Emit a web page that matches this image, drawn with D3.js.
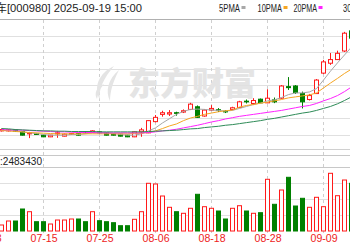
<!DOCTYPE html>
<html><head><meta charset="utf-8">
<script src="https://cdn.jsdelivr.net/npm/d3@7"></script>
<style>body{margin:0;background:#fff}svg{display:block;background:#fff}</style>
</head><body><svg id="c" width="350" height="250"></svg>
<script>
// ---- data ----
const allDates = ["07-03","07-04","07-07","07-08","07-09","07-10","07-11","07-14","07-15","07-16","07-17","07-18","07-21","07-22","07-23","07-24","07-25","07-28","07-29","07-30","07-31",
"08-01","08-04","08-05","08-06","08-07","08-08","08-11","08-12","08-13","08-14","08-15","08-18","08-19","08-20","08-21","08-22","08-25","08-26","08-27","08-28","08-29",
"09-01","09-02","09-03","09-04","09-05","09-08","09-09","09-10","09-11","09-12","09-15","09-16","09-17","09-18","09-19"];
const dates = allDates.slice(2, 53);
const open  = [2.61,2.61,2.64,2.59,2.52,2.53,2.48,2.43,2.52,2.45,2.50,2.53,2.58,2.56,2.58,2.55,2.52,2.51,2.48,
2.43,2.58,2.55,2.89,3.11,3.12,3.16,3.18,3.26,3.34,3.06,3.24,3.25,3.20,3.26,3.32,3.51,3.44,3.57,3.46,3.55,
3.60,3.95,3.97,3.74,3.56,3.74,4.36,4.66,4.77,5.03,5.64];
const close = [2.65,2.64,2.60,2.48,2.55,2.50,2.43,2.48,2.55,2.51,2.53,2.48,2.55,2.61,2.55,2.48,2.48,2.45,2.43,
2.58,2.64,2.92,3.02,3.16,3.16,3.14,3.22,3.42,3.02,3.24,3.29,3.23,3.19,3.31,3.49,3.49,3.53,3.46,3.60,3.49,
3.97,3.92,3.77,3.49,3.68,4.15,4.70,4.77,4.96,5.57,5.42];
const high  = [2.68,2.66,2.66,2.60,2.58,2.55,2.49,2.49,2.61,2.53,2.55,2.55,2.59,2.63,2.59,2.56,2.53,2.52,2.49,
2.59,2.70,2.93,3.09,3.22,3.24,3.19,3.26,3.46,3.38,3.26,3.39,3.30,3.24,3.34,3.52,3.56,3.60,3.59,3.87,3.62,
4.00,4.24,4.00,3.80,3.73,4.18,4.76,4.97,5.04,5.61,5.70];
const low   = [2.59,2.59,2.58,2.47,2.39,2.49,2.42,2.42,2.40,2.44,2.49,2.47,2.54,2.55,2.53,2.47,2.47,2.44,2.42,
2.42,2.43,2.54,2.87,3.04,3.06,3.07,3.15,3.24,3.00,3.04,3.22,3.18,3.15,3.24,3.30,3.44,3.39,3.45,3.45,3.45,
3.58,3.85,3.73,3.29,3.53,3.73,4.33,4.61,4.76,5.00,5.40];
const volume = [375000,625000,625000,1375000,1206000,581000,581000,437000,687000,687000,750000,750000,581000,1206000,644000,581000,519000,331000,331000,
731000,1206000,2981000,2937000,2187000,1481000,1206000,1106000,1419000,2294000,1519000,1419000,1250000,750000,1419000,1581000,1250000,1106000,1144000,3231000,1669000,
2562000,3356000,1562000,2044000,1481000,2106000,1519000,3606000,2206000,3187000,2981000];
const ma5  = [2.62,2.62,2.61,2.58,2.55,2.53,2.50,2.48,2.48,2.48,2.50,2.50,2.52,2.55,2.56,2.55,2.53,2.50,2.48,
2.48,2.52,2.61,2.70,2.85,2.98,3.11,3.20,3.26,3.27,3.26,3.24,3.23,3.21,3.23,3.29,3.35,3.41,3.45,3.52,3.55,
3.62,3.71,3.76,3.76,3.79,3.89,4.15,4.42,4.67,4.91,5.15];
const ma10 = [2.62,2.61,2.59,2.58,2.56,2.55,2.54,2.53,2.52,2.52,2.52,2.52,2.52,2.52,2.52,2.52,2.52,2.52,2.52,
2.53,2.54,2.56,2.61,2.68,2.76,2.82,2.92,3.00,3.05,3.11,3.15,3.19,3.22,3.24,3.33,3.38,3.41,3.45,3.48,3.52,
3.56,3.61,3.64,3.67,3.70,3.76,3.91,4.06,4.20,4.35,4.48];
const ma20 = [2.65,2.64,2.64,2.63,2.62,2.61,2.60,2.59,2.58,2.58,2.57,2.56,2.56,2.56,2.55,2.55,2.55,2.55,2.55,
2.55,2.55,2.56,2.58,2.61,2.63,2.66,2.70,2.74,2.78,2.83,2.88,2.92,2.97,3.01,3.05,3.08,3.11,3.14,3.17,3.20,
3.23,3.27,3.31,3.35,3.38,3.44,3.52,3.59,3.68,3.80,3.94];
const ma30 = [2.68,2.67,2.65,2.64,2.63,2.62,2.61,2.61,2.60,2.60,2.59,2.59,2.59,2.59,2.58,2.58,2.58,2.58,2.58,
2.58,2.58,2.59,2.60,2.61,2.62,2.63,2.65,2.67,2.68,2.71,2.73,2.75,2.78,2.80,2.83,2.86,2.89,2.92,2.96,2.99,
3.03,3.07,3.11,3.15,3.18,3.23,3.29,3.35,3.43,3.53,3.64];
const axisLabels = ["07-03","07-15","07-25","08-06","08-18","08-28","09-09"];
const priceTicks = [2.5,3.0,3.5,4.0,4.5,5.0,5.5];
const volTicks = [1e6,2e6,3e6];
const maNames = ["5PMA","10PMA","20PMA","30PMA"];
const maColors = ["#a8a8a8","#f5a623","#ff22ff","#2e8b57"];
const titleName = "众泰汽车";
const titleText = "[000980] 2025-09-19 15:00";
const volLabel = "成交量";
const volText = ":2483430";

// ---- scales ----
const W = 350;
const x = d3.scalePoint().domain(allDates).range([-12.5, -12.5 + 7*(allDates.length-1)]);
const y = d3.scaleLinear().domain([2.0, 6.0]).range([151, 19]);
const yv = d3.scaleLinear().domain([0, 4e6]).range([231, 167]);
const svg = d3.select("#c");
const RED = "#ff1a1a", GREEN = "#008000";

const rows = dates.map((d,i)=>({d, o:open[i], c:close[i], h:high[i], l:low[i], v:volume[i]}));

// ---- grid ----
svg.append("g").selectAll("line").data(priceTicks).join("line")
  .attr("x1",0).attr("x2",W).attr("y1",d=>Math.round(y(d))+0.5).attr("y2",d=>Math.round(y(d))+0.5)
  .attr("stroke","#e0e0e0");
svg.append("line").attr("x1",0).attr("x2",W).attr("y1",19.5).attr("y2",19.5).attr("stroke","#b0b0b0");
svg.append("line").attr("x1",0).attr("x2",W).attr("y1",149.5).attr("y2",149.5).attr("stroke","#d0d0d0");
svg.append("line").attr("x1",0).attr("x2",W).attr("y1",155.5).attr("y2",155.5).attr("stroke","#c8c8c8");
svg.append("line").attr("x1",0).attr("x2",W).attr("y1",167.5).attr("y2",167.5).attr("stroke","#c8c8c8");
svg.append("g").selectAll("line").data(volTicks).join("line")
  .attr("x1",0).attr("x2",W).attr("y1",d=>Math.round(yv(d))+0.5).attr("y2",d=>Math.round(yv(d))+0.5)
  .attr("stroke","#e0e0e0");
svg.append("g").selectAll("line").data(axisLabels).join("line")
  .attr("x1",d=>x(d)).attr("x2",d=>x(d)).attr("y1",20).attr("y2",233)
  .attr("stroke","#cfcfcf").attr("stroke-dasharray","3,3");

// ---- watermark ----
const wm = svg.append("g").attr("fill","#e4e4e4");
wm.append("path").attr("d","M114,66 C99,73 93,87 100,100 C98,89 104,78 114,66 Z M119,70 C108,79 105,91 110,101 C110,91 113,82 119,70 Z M104,84 C96,87 94,94 97,99 C98,93 100,89 104,84 Z");
wm.append("text").attr("x",128).attr("y",95).attr("font-family","Noto Sans CJK SC").attr("font-weight",900)
  .attr("font-size",32).text("东方财富");

// ---- candles ----
const cg = svg.append("g");
cg.selectAll("line").data(rows).join("line")
  .attr("x1",d=>x(d.d)).attr("x2",d=>x(d.d)).attr("y1",d=>y(d.h)).attr("y2",d=>y(d.l))
  .attr("stroke",d=>d.c>=d.o?RED:GREEN);
cg.selectAll("rect").data(rows).join("rect")
  .attr("x",d=>x(d.d)-2).attr("width",4)
  .attr("y",d=>y(Math.max(d.o,d.c)))
  .attr("height",d=>Math.max(0.5, Math.abs(y(d.o)-y(d.c))))
  .attr("fill",d=>d.c>=d.o?"#fff":GREEN).attr("stroke",d=>d.c>=d.o?RED:GREEN);

// ---- MA lines ----
[ma5,ma10,ma20,ma30].forEach((arr,k)=>{
  const line = d3.line().x((v,i)=>x(dates[i])).y(v=>y(v));
  svg.append("path").attr("d",line(arr)).attr("fill","none").attr("stroke",maColors[k]).attr("stroke-width",1);
});

// ---- volume ----
svg.append("g").selectAll("rect").data(rows).join("rect")
  .attr("x",d=>x(d.d)-2).attr("width",4)
  .attr("y",d=>yv(d.v)).attr("height",d=>yv(0)-yv(d.v))
  .attr("fill",d=>d.c>=d.o?"#fff":GREEN).attr("stroke",d=>d.c>=d.o?RED:GREEN);

// ---- date axis ----
const xa = svg.append("g").attr("transform","translate(0,234)")
  .call(d3.axisBottom(x).tickValues(axisLabels).tickSize(0).tickPadding(0));
xa.select(".domain").remove();
xa.selectAll("text").attr("fill","#ee2222").attr("font-family","Liberation Sans")
  .attr("font-size",10).attr("dy","0.75em").attr("textLength",27).attr("lengthAdjust","spacingAndGlyphs");

// ---- texts ----
svg.append("text").attr("x",7).attr("y",12).attr("text-anchor","end").attr("font-family","Noto Sans CJK SC")
  .attr("font-size",11).attr("fill","#222").text(titleName);
svg.append("text").attr("x",7).attr("y",12).attr("font-family","Liberation Sans").attr("font-size",11)
  .attr("fill","#222").attr("textLength",135).attr("lengthAdjust","spacingAndGlyphs").text(titleText);

const legX = [219, 257.5, 293.5, 343];
const legW = [21, 24.5, 23.5, 24.5];
maNames.forEach((n,k)=>{
  svg.append("text").attr("x",legX[k]).attr("y",12).attr("font-family","Liberation Sans").attr("font-size",10)
    .attr("fill","#222").attr("textLength",legW[k]).attr("lengthAdjust","spacingAndGlyphs").text(n);
  svg.append("rect").attr("x",legX[k]+legW[k]+1.5).attr("y",6).attr("width",4).attr("height",3)
    .attr("fill",maColors[k]);
});

svg.append("text").attr("x",0).attr("y",165).attr("text-anchor","end").attr("font-family","Noto Sans CJK SC")
  .attr("font-size",11).attr("fill","#222").text(volLabel);
svg.append("text").attr("x",0).attr("y",165).attr("font-family","Liberation Sans").attr("font-size",11)
  .attr("fill","#222").attr("textLength",42).attr("lengthAdjust","spacingAndGlyphs").text(volText);
</script></body></html>
